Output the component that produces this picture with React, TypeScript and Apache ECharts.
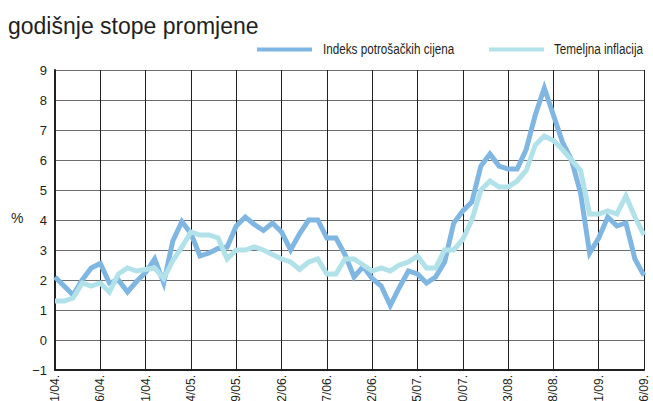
import React, { useEffect, useRef } from "react";
import * as echarts from "echarts";

const categories = [
  "01/04.", "02/04.", "03/04.", "04/04.", "05/04.", "06/04.", "07/04.", "08/04.", "09/04.", "10/04.", "11/04.", "12/04.",
  "01/05.", "02/05.", "03/05.", "04/05.", "05/05.", "06/05.", "07/05.", "08/05.", "09/05.", "10/05.", "11/05.", "12/05.",
  "01/06.", "02/06.", "03/06.", "04/06.", "05/06.", "06/06.", "07/06.", "08/06.", "09/06.", "10/06.", "11/06.", "12/06.",
  "01/07.", "02/07.", "03/07.", "04/07.", "05/07.", "06/07.", "07/07.", "08/07.", "09/07.", "10/07.", "11/07.", "12/07.",
  "01/08.", "02/08.", "03/08.", "04/08.", "05/08.", "06/08.", "07/08.", "08/08.", "09/08.", "10/08.", "11/08.", "12/08.",
  "01/09.", "02/09.", "03/09.", "04/09.", "05/09.", "06/09.",
];

const cpi = [
  2.1, 1.8, 1.5, 2.0, 2.4, 2.55, 1.9, 2.0, 1.6, 1.95, 2.25, 2.7,
  1.9, 3.3, 3.95, 3.55, 2.8, 2.9, 3.05, 3.1, 3.8, 4.1, 3.85, 3.65,
  3.9, 3.6, 3.0, 3.55, 4.0, 4.0, 3.4, 3.4, 2.85, 2.1, 2.45, 2.05,
  1.8, 1.15, 1.75, 2.3, 2.2, 1.9, 2.1, 2.6, 3.9, 4.3, 4.6, 5.8,
  6.2, 5.8, 5.7, 5.7, 6.35, 7.5, 8.4, 7.5, 6.6, 6.0, 4.9, 2.9,
  3.4, 4.1, 3.8, 3.9, 2.7, 2.15,
];

const core = [
  1.3, 1.3, 1.4, 1.9, 1.8, 1.9, 1.6, 2.2, 2.4, 2.3, 2.35, 2.4,
  2.05, 2.65, 3.1, 3.6, 3.5, 3.5, 3.4, 2.7, 3.0, 3.0, 3.1, 3.0,
  2.85, 2.7, 2.6, 2.35, 2.6, 2.7, 2.2, 2.2, 2.7, 2.7, 2.5, 2.3,
  2.4, 2.3, 2.5, 2.6, 2.8, 2.4, 2.4, 3.0, 3.0, 3.35, 4.0, 5.0,
  5.3, 5.1, 5.1, 5.3, 5.65, 6.5, 6.8, 6.65, 6.35, 6.0, 5.65, 4.2,
  4.2, 4.3, 4.2, 4.8, 4.1, 3.5,
];

const seriesNames = ["Indeks potrošačkih cijena", "Temeljna inflacija"];
const seriesColors = ["#80b6e2", "#b1e1e9"];
const titleText = "godišnje stope promjene";
const unitText = "%";

const SANS = "'Liberation Sans', Arial, sans-serif";
const INK = "#231f20";

export default function App() {
  const ref = useRef<HTMLDivElement>(null);
  useEffect(() => {
    if (!ref.current) return;
    const chart = echarts.init(ref.current, undefined, { renderer: "svg" });
    const legendItems = [
      { sx: 257, tx: 323 },
      { sx: 489, tx: 554 },
    ];
    const legendGraphics: any[] = [];
    legendItems.forEach((it, i) => {
      legendGraphics.push({
        type: "rect",
        shape: { x: it.sx, y: 47.5, width: 55, height: 4 },
        style: { fill: seriesColors[i] },
      });
      legendGraphics.push({
        type: "text",
        x: it.tx,
        y: 49,
        scaleX: 0.78,
        style: {
          text: seriesNames[i],
          fontFamily: SANS,
          fontSize: 15,
          fill: INK,
          verticalAlign: "middle",
          align: "left",
        },
      });
    });
    chart.setOption({
      animation: false,
      backgroundColor: "#ffffff",
      title: {
        text: titleText,
        left: 3,
        top: 9,
        textStyle: { fontFamily: SANS, fontSize: 23, fontWeight: "normal", color: INK },
      },
      graphic: [
        {
          type: "text",
          left: 11,
          top: 211,
          style: { text: unitText, fontFamily: SANS, fontSize: 14, fill: INK },
        },
        ...legendGraphics,
      ],
      grid: { left: 55, right: 9, top: 70, bottom: 31, containLabel: false, outerBoundsMode: "none" },
      xAxis: {
        type: "category",
        boundaryGap: false,
        data: categories,
        axisLine: { show: true, onZero: false, lineStyle: { color: INK, width: 2 } },
        axisTick: { show: false },
        axisLabel: {
          interval: 4,
          rotate: 90,
          margin: 5,
          fontFamily: SANS,
          fontSize: 12,
          color: INK,
        },
        splitLine: { show: true, interval: 4, lineStyle: { color: INK, width: 1 } },
      },
      yAxis: {
        type: "value",
        min: -1,
        max: 9,
        interval: 1,
        axisLine: { show: true, lineStyle: { color: INK, width: 2 } },
        axisTick: { show: false },
        axisLabel: {
          margin: 8,
          fontFamily: SANS,
          fontSize: 13,
          color: INK,
          formatter: (v: number) => (v < 0 ? "\u2212" + Math.abs(v) : String(v)),
        },
        splitLine: { show: true, lineStyle: { color: "#6d6e70", width: 1 } },
      },
      series: [
        {
          name: seriesNames[0],
          type: "line",
          data: cpi,
          symbol: "none",
          lineStyle: { color: seriesColors[0], width: 5, join: "miter" },
          itemStyle: { color: seriesColors[0] },
        },
        {
          name: seriesNames[1],
          type: "line",
          data: core,
          symbol: "none",
          lineStyle: { color: seriesColors[1], width: 5, join: "miter" },
          itemStyle: { color: seriesColors[1] },
        },
      ],
    });
    return () => chart.dispose();
  }, []);
  return (
    <div
      ref={ref}
      style={{ position: "fixed", left: 0, top: 0, width: 653, height: 401, background: "#fff" }}
    />
  );
}
